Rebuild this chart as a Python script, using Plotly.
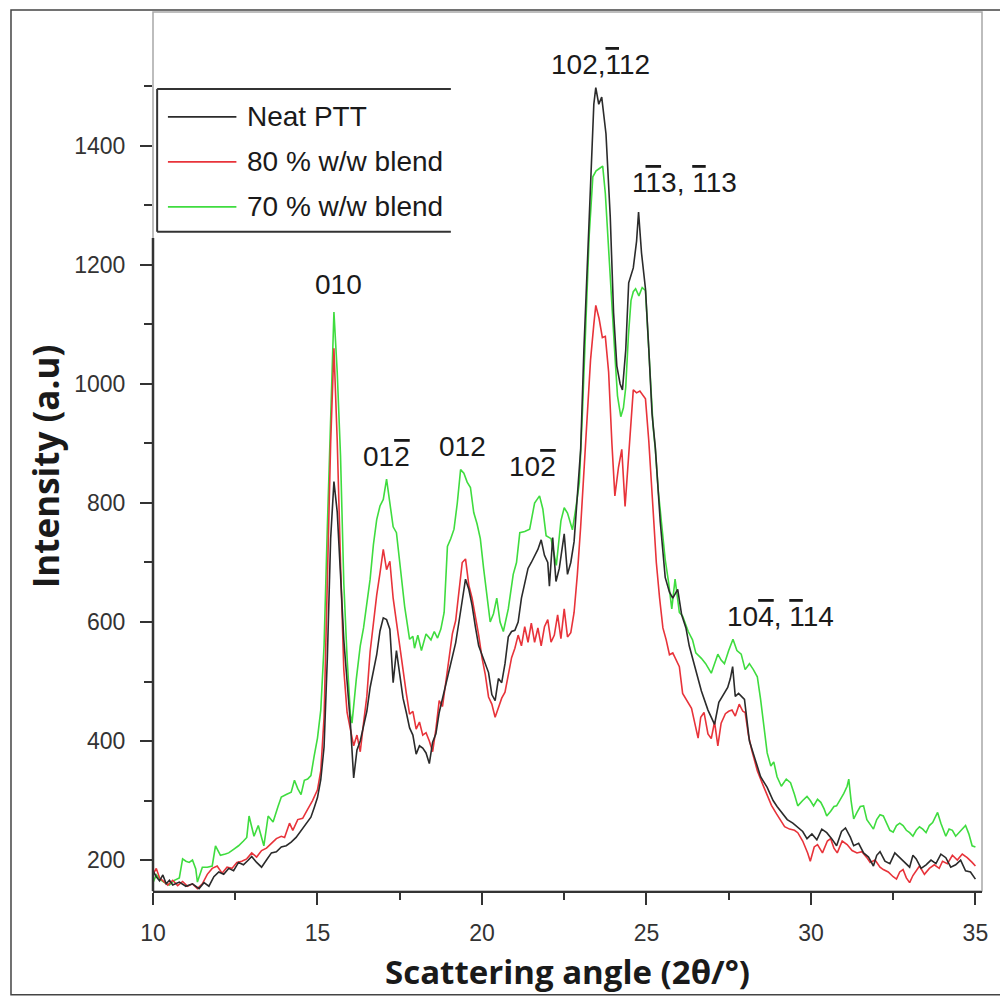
import plotly.graph_objects as go

# ---- series data: 2θ (deg) and intensity (a.u.) ----
neat_x = [10.0, 10.1, 10.2, 10.3, 10.4, 10.5, 10.6, 10.8, 11.0, 11.2, 11.4, 11.55, 11.7, 11.85, 12.0, 12.15,
          12.3, 12.45, 12.6, 12.75, 12.9, 13.0, 13.15, 13.3, 13.45, 13.6, 13.75, 13.9, 14.05, 14.2, 14.35,
          14.5, 14.65, 14.8, 14.9, 15.0, 15.1, 15.2, 15.3, 15.4, 15.5, 15.6, 15.7, 15.8, 15.9, 16.0, 16.1,
          16.2, 16.3, 16.4, 16.5, 16.6, 16.7, 16.8, 16.9, 17.0, 17.1, 17.2, 17.3, 17.4, 17.5, 17.6, 17.7,
          17.8, 17.9, 18.0, 18.1, 18.2, 18.3, 18.4, 18.5, 18.6, 18.7, 18.8, 18.9, 19.0, 19.1, 19.2, 19.3,
          19.4, 19.5, 19.6, 19.7, 19.8, 19.9, 20.0, 20.1, 20.2, 20.3, 20.4, 20.5, 20.6, 20.7, 20.8, 20.9,
          21.0, 21.1, 21.2, 21.3, 21.4, 21.5, 21.6, 21.7, 21.8, 21.9, 22.0, 22.05, 22.15, 22.25, 22.35,
          22.5, 22.6, 22.7, 22.8, 22.9, 23.0, 23.1, 23.2, 23.3, 23.4, 23.46, 23.55, 23.64, 23.77, 23.9,
          24.0, 24.1, 24.2, 24.27, 24.37, 24.46, 24.6, 24.7, 24.76, 24.85, 24.97, 25.07, 25.17, 25.27,
          25.42, 25.57, 25.7, 25.8, 25.95, 26.07, 26.2, 26.3, 26.47, 26.67, 26.87, 27.07, 27.2, 27.3,
          27.47, 27.55, 27.62, 27.7, 27.8, 27.98, 28.13, 28.3, 28.47, 28.67, 28.85, 28.97, 29.1, 29.28,
          29.45, 29.58, 29.75, 29.88, 30.03, 30.18, 30.33, 30.48, 30.63, 30.78, 30.93, 31.05, 31.2, 31.3,
          31.45, 31.6, 31.75, 31.9, 32.0, 32.1, 32.25, 32.4, 32.55, 32.7, 32.85, 33.0, 33.1, 33.2, 33.35,
          33.5, 33.65, 33.8, 33.95, 34.1, 34.25, 34.4, 34.55, 34.7, 34.85, 35.0]
neat_y = [182, 172, 165, 175, 160, 166, 158, 163, 156, 160, 152, 162, 156, 172, 180, 176,
          186, 182, 196, 192, 200, 206, 196, 188, 200, 212, 214, 222, 224, 230, 238,
          250, 262, 272, 288, 305, 335, 390, 540, 740, 836, 785, 680, 570, 500, 430, 338,
          385, 400, 428, 450, 490, 518, 545, 585, 607, 604, 588, 498, 552, 512, 472, 448,
          422, 410, 378, 392, 388, 380, 362, 398, 412, 448, 472, 495, 520, 545, 565, 600,
          640, 672, 655, 628, 592, 560, 545, 528, 515, 478, 468, 505, 498, 530, 575, 584,
          586, 600, 640, 665, 690, 700, 712, 722, 738, 712, 700, 660, 742, 668, 690,
          748, 680, 700, 735, 820, 890, 1060, 1200, 1360, 1470, 1498, 1470, 1482, 1420, 1280,
          1120, 1030, 1000, 990, 1057, 1170, 1195, 1240, 1289, 1220, 1160, 1060, 950, 893,
          768, 675, 650, 640, 655, 612, 590, 560, 524, 484, 452, 428, 465, 475,
          490, 505, 525, 475, 480, 470, 400, 370, 340, 322, 300, 290, 280, 268,
          262, 256, 248, 236, 244, 234, 252, 246, 236, 224, 248, 254, 238, 224,
          228, 212, 205, 190, 208, 214, 198, 194, 212, 204, 196, 188, 208, 202, 186,
          192, 200, 194, 210, 204, 188, 192, 200, 182, 180, 168]

blend80_x = [10.0, 10.1, 10.2, 10.3, 10.45, 10.6, 10.75, 10.9, 11.05, 11.2, 11.35, 11.5, 11.65, 11.8, 11.95,
             12.1, 12.25, 12.4, 12.55, 12.7, 12.85, 13.0, 13.15, 13.3, 13.45, 13.6, 13.75, 13.9, 14.0,
             14.15, 14.25, 14.4, 14.55, 14.7, 14.85, 15.0, 15.1, 15.2, 15.3, 15.4, 15.5, 15.6, 15.7, 15.8,
             15.9, 16.0, 16.1, 16.2, 16.3, 16.4, 16.5, 16.6, 16.7, 16.8, 16.9, 17.0, 17.1, 17.2, 17.3,
             17.4, 17.5, 17.6, 17.7, 17.8, 17.9, 18.0, 18.1, 18.2, 18.3, 18.4, 18.5, 18.6, 18.7, 18.8,
             18.9, 19.0, 19.1, 19.2, 19.3, 19.4, 19.5, 19.6, 19.7, 19.8, 19.9, 20.0, 20.1, 20.2, 20.3,
             20.4, 20.5, 20.6, 20.7, 20.8, 20.9, 21.0, 21.1, 21.2, 21.3, 21.4, 21.5, 21.6, 21.7, 21.8,
             21.9, 22.0, 22.1, 22.2, 22.3, 22.4, 22.5, 22.6, 22.7, 22.8, 22.9, 23.0, 23.1, 23.2, 23.3,
             23.4, 23.46, 23.56, 23.66, 23.75, 23.85, 23.95, 24.04, 24.15, 24.25, 24.35, 24.45, 24.6,
             24.7, 24.8, 24.97, 25.07, 25.2, 25.3, 25.4, 25.5, 25.6, 25.7, 25.8, 25.9, 26.0, 26.1, 26.2,
             26.37, 26.57, 26.65, 26.75, 26.87, 26.97, 27.07, 27.17, 27.27, 27.4, 27.5, 27.6, 27.7,
             27.82, 27.93, 28.0, 28.1, 28.2, 28.37, 28.55, 28.7, 28.8, 28.95, 29.1, 29.2, 29.35, 29.5,
             29.6, 29.75, 29.9, 29.98, 30.1, 30.2, 30.35, 30.5, 30.6, 30.7, 30.8, 30.95, 31.1, 31.25,
             31.4, 31.55, 31.7, 31.8, 31.95, 32.1, 32.2, 32.35, 32.5, 32.6, 32.7, 32.8, 32.9, 33.0,
             33.1, 33.2, 33.3, 33.45, 33.6, 33.75, 33.9, 34.0, 34.15, 34.3, 34.45, 34.6, 34.75, 34.9, 35.0]
blend80_y = [176, 186, 170, 165, 158, 166, 157, 164, 156, 160, 152, 160, 176, 186, 190,
             178, 188, 186, 196, 198, 202, 212, 205, 216, 220, 228, 236, 240, 238,
             262, 250, 268, 270, 285, 300, 318, 350, 440, 650, 900, 1060, 905, 700, 520,
             448, 420, 392, 410, 382, 430, 475, 550, 600, 645, 682, 722, 688, 702, 640,
             598, 560, 520, 480, 445, 450, 420, 432, 410, 414, 400, 382, 420, 468, 458,
             500, 538, 580, 602, 652, 700, 706, 662, 640, 610, 578, 540, 512, 474, 462,
             440, 458, 472, 482, 512, 540, 556, 578, 560, 592, 566, 598, 566, 590, 560,
             592, 604, 566, 578, 612, 572, 622, 575, 582, 616, 680, 760, 860, 960, 1040,
             1100, 1132, 1110, 1078, 1080, 1020, 900, 812, 860, 890, 794, 880, 990,
             985, 988, 975, 905, 790, 700, 640, 590, 570, 545, 548, 535, 525, 480, 470,
             455, 405, 440, 448, 412, 404, 432, 392, 430, 446, 450, 452, 442,
             462, 450, 448, 410, 385, 350, 325, 305, 292, 278, 266, 256, 252, 250,
             246, 232, 212, 198, 222, 226, 212, 232, 236, 220, 212, 232, 226, 216,
             212, 214, 204, 196, 200, 188, 184, 180, 172, 168, 180, 184, 170, 162,
             174, 182, 190, 176, 186, 192, 186, 198, 194, 208, 200, 210, 204, 196, 190]

blend70_x = [10.0, 10.1, 10.2, 10.35, 10.5, 10.65, 10.8, 10.9, 11.0, 11.1, 11.2, 11.3, 11.35, 11.5, 11.65,
             11.8, 11.9, 12.05, 12.2, 12.3, 12.45, 12.6, 12.75, 12.85, 12.92, 13.07, 13.2, 13.3, 13.37,
             13.5, 13.65, 13.8, 13.9, 14.05, 14.2, 14.3, 14.4, 14.5, 14.6, 14.7, 14.8, 14.9, 15.0, 15.1,
             15.2, 15.3, 15.4, 15.5, 15.6, 15.7, 15.8, 15.9, 16.0, 16.05, 16.18, 16.3, 16.4, 16.5, 16.6,
             16.7, 16.8, 16.9, 17.0, 17.1, 17.2, 17.3, 17.4, 17.5, 17.65, 17.8, 17.9, 17.95, 18.05,
             18.16, 18.3, 18.45, 18.55, 18.65, 18.75, 18.85, 18.95, 19.05, 19.15, 19.25, 19.35, 19.45,
             19.55, 19.65, 19.75, 19.85, 19.95, 20.05, 20.15, 20.25, 20.35, 20.45, 20.55, 20.65, 20.8,
             20.95, 21.05, 21.15, 21.3, 21.45, 21.6, 21.75, 21.85, 21.95, 22.1, 22.26, 22.4, 22.5, 22.6,
             22.75, 22.85, 22.96, 23.06, 23.16, 23.26, 23.37, 23.47, 23.57, 23.67, 23.75, 23.82, 23.9,
             23.98, 24.05, 24.12, 24.22, 24.3, 24.37, 24.45, 24.53, 24.6, 24.67, 24.77, 24.87, 24.97,
             25.05, 25.12, 25.2, 25.27, 25.36, 25.47, 25.57, 25.67, 25.77, 25.87, 25.95, 26.0, 26.1,
             26.27, 26.4, 26.5, 26.67, 26.8, 26.97, 27.07, 27.17, 27.27, 27.37, 27.5, 27.63, 27.75,
             27.88, 28.0, 28.13, 28.25, 28.37, 28.47, 28.57, 28.67, 28.78, 28.87, 28.97, 29.1, 29.25,
             29.38, 29.5, 29.6, 29.75, 29.88, 29.98, 30.08, 30.2, 30.3, 30.4, 30.48, 30.6, 30.7, 30.78,
             30.9, 31.0, 31.1, 31.15, 31.22, 31.3, 31.4, 31.5, 31.6, 31.7, 31.8, 31.9, 32.0, 32.1, 32.2,
             32.3, 32.4, 32.5, 32.6, 32.7, 32.8, 32.9, 33.0, 33.1, 33.2, 33.3, 33.4, 33.5, 33.6, 33.7,
             33.8, 33.85, 33.95, 34.05, 34.1, 34.2, 34.3, 34.4, 34.5, 34.6, 34.7, 34.8, 34.9, 35.0]
blend70_y = [162, 175, 168, 162, 158, 166, 170, 202, 198, 196, 200, 185, 163, 188, 188,
             190, 224, 208, 210, 212, 218, 224, 232, 238, 274, 240, 258, 236, 224,
             274, 264, 290, 306, 310, 314, 334, 320, 310, 334, 336, 342, 375, 405, 452,
             560, 760, 930, 1121, 1020, 880, 665, 540, 445, 430, 504, 560, 590, 630, 672,
             730, 772, 795, 806, 840, 800, 760, 750, 700, 626, 571, 576, 556, 578,
             552, 580, 570, 584, 573, 588, 616, 727, 740, 756, 800, 856, 850,
             835, 826, 784, 765, 740, 690, 640, 600, 614, 640, 600, 584, 622,
             680, 700, 750, 752, 756, 800, 812, 790, 745, 740, 695, 770, 792, 783,
             755, 790, 834, 960, 1100, 1250, 1348, 1358, 1362, 1366, 1320, 1250, 1180,
             1111, 1040, 980, 945, 960, 994, 1080, 1140, 1155, 1160, 1148, 1162, 1157,
             1080, 1000, 930, 890, 820, 760, 705, 668, 622, 672, 640, 616, 610,
             584, 570, 548, 539, 530, 514, 532, 546, 536, 530, 552, 571, 552,
             546, 520, 530, 520, 508, 470, 420, 380, 358, 365, 340, 324, 336,
             330, 310, 291, 300, 307, 300, 291, 302, 297, 286, 274, 282, 290, 291,
             302, 312, 324, 336, 300, 269, 280, 290, 291, 268, 260, 252, 268, 276, 274,
             262, 250, 247, 258, 262, 258, 250, 246, 240, 250, 256, 252, 246, 258, 263,
             274, 280, 262, 246, 240, 252, 250, 240, 246, 252, 258, 244, 224, 222]

series_names = ["Neat PTT", "80 % w/w blend", "70 % w/w blend"]
series_colors = ["#2b2b2b", "#e8333a", "#3fdc3f"]


def bar(digit):
    """Negative Miller index: digit with an overline."""
    return '<span style="text-decoration:overline">' + digit + "</span>"


# reflection labels
peak_labels = ["010", "01" + bar("2"), "012", "10" + bar("2"), "102," + bar("1") + "12",
               "1" + bar("1") + "3, " + bar("1") + "13", "10" + bar("4") + ", " + bar("1") + "14"]
peak_label_x = [15.65, 17.1, 19.42, 21.53, 23.59, 26.15, 29.08]
peak_label_y = [1167, 878, 895, 861, 1536, 1338, 609]

x_ticks = [10, 15, 20, 25, 30, 35]
x_minor = [12.5, 17.5, 22.5, 27.5, 32.5]
y_ticks = [200, 400, 600, 800, 1000, 1200, 1400]
y_minor = [300, 500, 700, 900, 1100, 1300, 1500]

fig = go.Figure()
traces = [(neat_x, neat_y), (blend80_x, blend80_y), (blend70_x, blend70_y)]
for idx in [2, 1, 0]:
    xs, ys = traces[idx]
    fig.add_trace(go.Scatter(x=xs, y=ys, mode="lines", name=series_names[idx],
                             line=dict(color=series_colors[idx], width=1.6),
                             showlegend=False))

tick_font = dict(family="Arial", size=23, color="#333")
title_font = dict(family="Open Sans", size=33, color="#1a1a1a")

fig.update_layout(
    width=1000, height=997,
    margin=dict(l=153, r=12, t=12, b=105),
    paper_bgcolor="white", plot_bgcolor="white",
    xaxis=dict(range=[10, 35.2], tickvals=x_ticks, ticks="outside", ticklen=12, tickwidth=2,
               tickcolor="#333", showline=True, linecolor="#333", linewidth=2,
               showgrid=False, zeroline=False, tickfont=tick_font, ticklabelstandoff=8,
               minor=dict(tickvals=x_minor, ticks="outside", ticklen=7, tickwidth=2, tickcolor="#333"),
               title=dict(text="<b>Scattering angle (2θ/°)</b>", font=title_font, standoff=16)),
    yaxis=dict(range=[148, 1625], tickvals=y_ticks, ticks="outside", ticklen=12, tickwidth=2,
               tickcolor="#333", showline=False, showgrid=False, zeroline=False,
               tickfont=tick_font, ticklabelstandoff=10,
               minor=dict(tickvals=y_minor, ticks="outside", ticklen=8, tickwidth=2, tickcolor="#333")),
)

shapes = [
    # light frame around plotting area
    dict(type="rect", xref="paper", yref="paper", x0=0, x1=1, y0=0, y1=1,
         line=dict(color="#a8a8a8", width=1.5), layer="below"),
    # dark left axis below the legend box
    dict(type="line", xref="paper", yref="paper", x0=0, x1=0, y0=0, y1=0.743,
         line=dict(color="#333", width=2.5)),
    # outer border of the figure
    dict(type="rect", xref="paper", yref="paper", x0=-0.1713, x1=1.03, y0=-0.118, y1=1.0023,
         line=dict(color="#444", width=1.5)),
    # legend box (open on the right)
    dict(type="line", xref="paper", yref="paper", x0=0.005, x1=0.3593, y0=0.9125, y1=0.9125,
         line=dict(color="#333", width=2)),
    dict(type="line", xref="paper", yref="paper", x0=0.005, x1=0.3593, y0=0.75, y1=0.75,
         line=dict(color="#333", width=2)),
    dict(type="line", xref="paper", yref="paper", x0=0.005, x1=0.005, y0=0.75, y1=0.9125,
         line=dict(color="#333", width=2)),
]

annotations = [
    # y-axis title, rotated
    dict(xref="paper", yref="paper", x=-0.1293, y=0.483, text="<b>Intensity (a.u)</b>",
         textangle=-90, showarrow=False, xanchor="center", yanchor="middle",
         font=dict(family="Open Sans", size=35, color="#1a1a1a")),
]

legend_rows = [0.8807, 0.8295, 0.7784]
for name, color, ry in zip(series_names, series_colors, legend_rows):
    shapes.append(dict(type="line", xref="paper", yref="paper", x0=0.018, x1=0.1006, y0=ry, y1=ry,
                       line=dict(color=color, width=1.8)))
    annotations.append(dict(xref="paper", yref="paper", x=0.1114, y=ry, text=name, showarrow=False,
                            xanchor="left", yanchor="middle",
                            font=dict(family="Arial", size=28, color="#1a1a1a")))

for txt, lx, ly in zip(peak_labels, peak_label_x, peak_label_y):
    annotations.append(dict(x=lx, y=ly, text=txt, showarrow=False, xanchor="center", yanchor="middle",
                            font=dict(family="Arial", size=28, color="#1a1a1a")))

fig.update_layout(shapes=shapes, annotations=annotations)

fig.write_html("out.html")
